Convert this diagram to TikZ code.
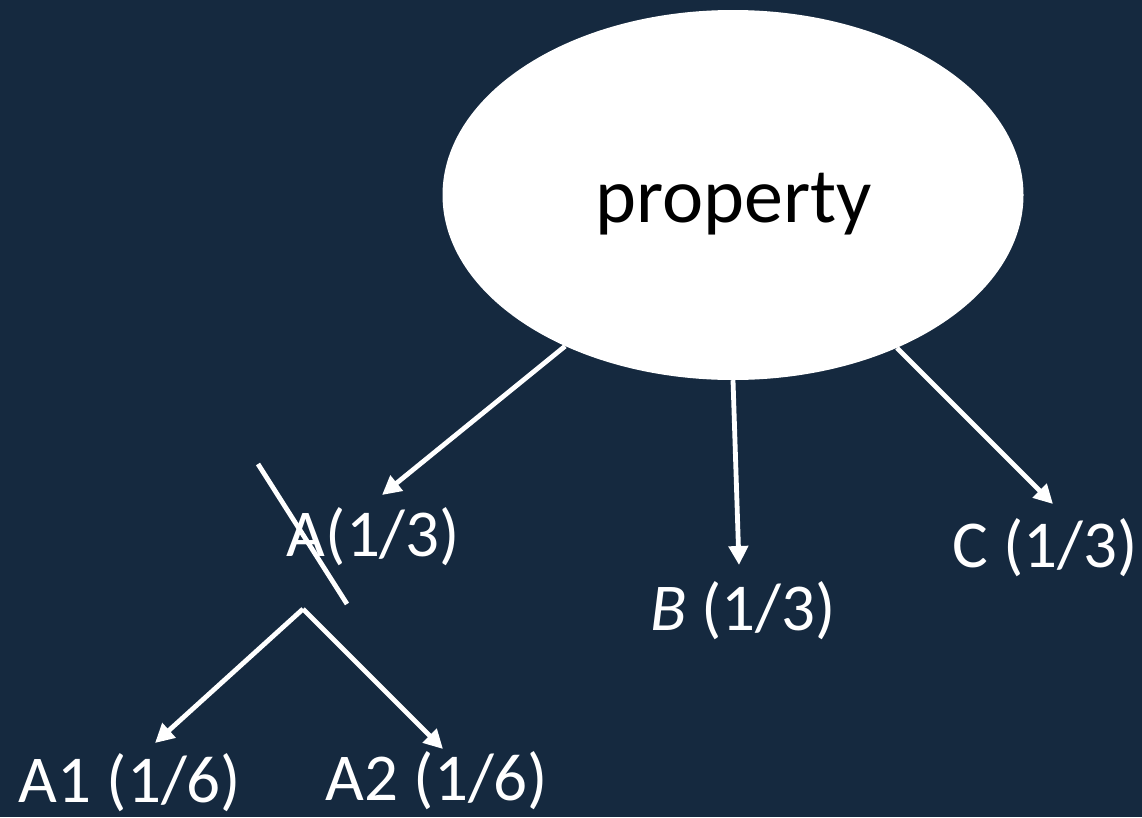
\documentclass[tikz,border=0pt]{standalone}
\usepackage{fontspec}
\setmainfont{Carlito}
\usetikzlibrary{arrows.meta,shapes.geometric}
\definecolor{bg}{RGB}{21,41,63}
\tikzset{
  conn/.style={draw=white,line width=4.8pt,-{Triangle[length=19pt,width=19pt]}},
  plain/.style={draw=white,line width=4.8pt},
  lbl/.style={text=white,font=\fontsize{67}{80}\selectfont,anchor=base,inner sep=0pt},
}
\begin{document}
\begin{tikzpicture}[x=1pt,y=-1pt]
\fill[bg] (0,0) rectangle (1142,817);
\useasboundingbox (0,0) rectangle (1142,817);
\node[ellipse,fill=white,minimum width=581pt,minimum height=370pt,inner sep=0pt] (prop) at (733,195) {};
\node[text=black,font=\fontsize{78}{90}\selectfont,anchor=base,inner sep=0pt] (proptext) at (734,222) {property};
\node[lbl] (A) at (373.5,556) {A(1/3)};
\node[lbl] (B) at (743,630) {\textit{B} (1/3)};
\node[lbl] (C) at (1045,567) {C (1/3)};
\node[lbl] (A1) at (130,802) {A1 (1/6)};
\node[lbl] (A2) at (437,800) {A2 (1/6)};
\coordinate (aend) at (382,495);
\coordinate (bend) at (739,565);
\coordinate (cend) at (1053,504);
\coordinate (s1) at (258,464);
\coordinate (s2) at (347,604);
\coordinate (fork) at (303,609);
\coordinate (a1end) at (155,743);
\coordinate (a2end) at (443,749);
\draw[conn] (prop.222) -- (aend);
\draw[conn] (prop.south) -- (bend);
\draw[conn] (prop.317) -- (cend);
\draw[plain] (s1) -- (s2);
\draw[conn] (fork) -- (a1end);
\draw[conn] (fork) -- (a2end);
\end{tikzpicture}
\end{document}
